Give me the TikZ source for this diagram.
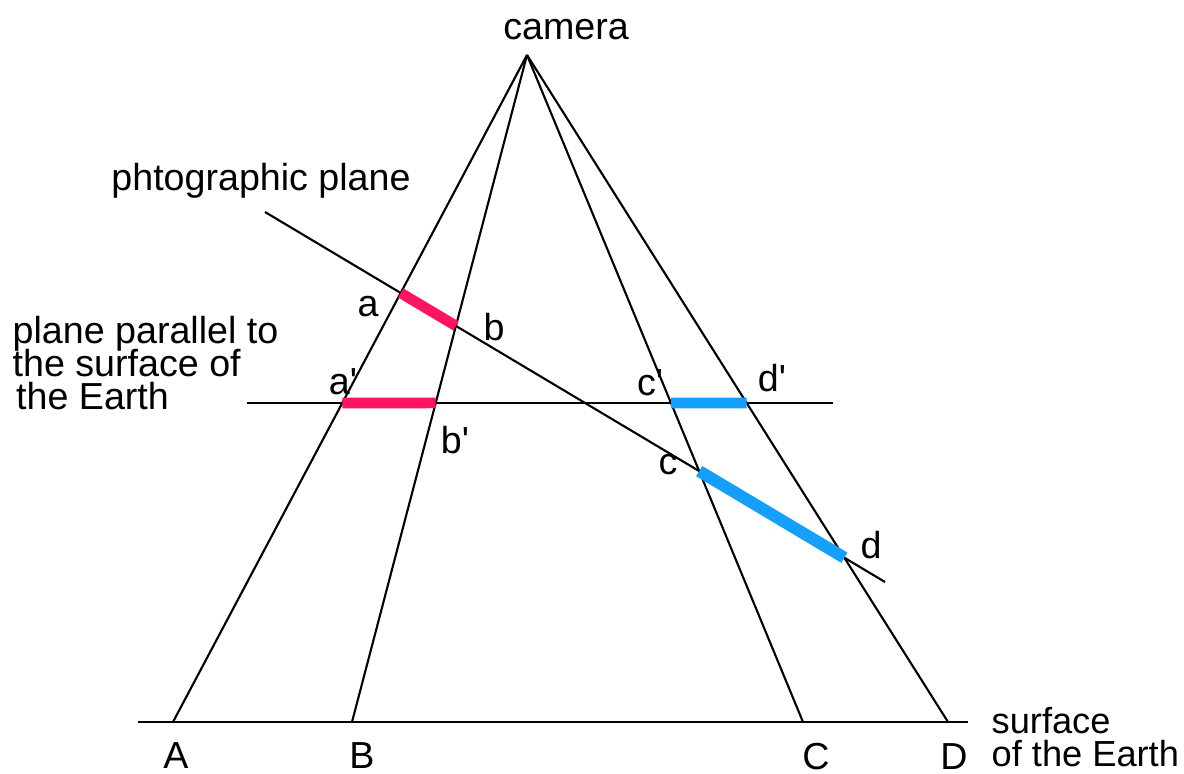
\documentclass[tikz,border=0pt]{standalone}
\usepackage{fontspec}
\setmainfont{Liberation Sans}
\usepackage{xcolor}
\usepackage{tikz}
\usetikzlibrary{positioning,calc}
\definecolor{imgred}{RGB}{255,20,95}
\definecolor{imgblue}{RGB}{20,160,250}

\begin{document}
\begin{tikzpicture}[
  x=0.01cm, y=-0.01cm,
  ray/.style={line width=0.6pt},
  seg/.style={line width=3pt},
  lab/.style={font=\fontsize{10.7}{11}\selectfont, inner sep=0pt}
]
\useasboundingbox (0,0) rectangle (1184,774);
% camera and ground points
\coordinate (P) at (527,55);
\coordinate (A) at (173,722);
\coordinate (B) at (352,722);
\coordinate (C) at (803,722);
\coordinate (D) at (948,722);
\coordinate (g1) at (138,722);
\coordinate (g2) at (968,722);
% photographic plane and parallel plane
\coordinate (q1) at (265,212);
\coordinate (q2) at (885,582);
\coordinate (h1) at (247,403);
\coordinate (h2) at (833,403);

\foreach \p in {A,B,C,D} {
  \draw[ray] (P) -- (\p);
}
\draw[ray] (g1) -- (g2);
\draw[ray] (q1) -- (q2);
\draw[ray] (h1) -- (h2);

% images of the segments
\coordinate (a) at (intersection of P--A and q1--q2);
\coordinate (b) at (intersection of P--B and q1--q2);
\coordinate (c) at (intersection of P--C and q1--q2);
\coordinate (d) at (intersection of P--D and q1--q2);
\coordinate (a') at (intersection of P--A and h1--h2);
\coordinate (b') at (intersection of P--B and h1--h2);
\coordinate (c') at (intersection of P--C and h1--h2);
\coordinate (d') at (intersection of P--D and h1--h2);
\draw[seg, imgred] (a) -- (b);
\draw[seg, imgred] (a') -- (b');
\draw[seg, imgblue] (c') -- (d');
\draw[seg, imgblue, line width=3.4pt] (c) -- (d);

\node[lab] (camlab) at (566,30) {camera};
\node[lab] (phlab) at (261,181) {phtographic plane};
\node[lab, align=left, anchor=west] (parlab) at (12,363)
  {plane parallel to\\[-1.5pt]the surface of\\[-1.5pt]\hspace{1pt}the Earth};
\node[lab] (la) at (368,307) {a};
\node[lab] (lb) at (494,327) {b};
\node[lab] (la') at (343,382) {a\textquotesingle};
\node[lab] (lb') at (455,440) {b\textquotesingle};
\node[lab] (lc') at (650,383) {c\textquotesingle};
\node[lab] (ld') at (772,378) {d\textquotesingle};
\node[lab] (lc) at (668,465) {c};
\node[lab] (ld) at (871,545) {d};
\node[lab] (lA) at (176,756) {A};
\node[lab] (lB) at (362,756) {B};
\node[lab] (lC) at (816,757) {C};
\node[lab] (lD) at (954,757) {D};
\node[lab, font=\fontsize{10.3}{10.6}\selectfont, align=left, anchor=west] (surflab) at (991,737)
  {surface\\[-1pt]of the Earth};
\end{tikzpicture}
\end{document}
